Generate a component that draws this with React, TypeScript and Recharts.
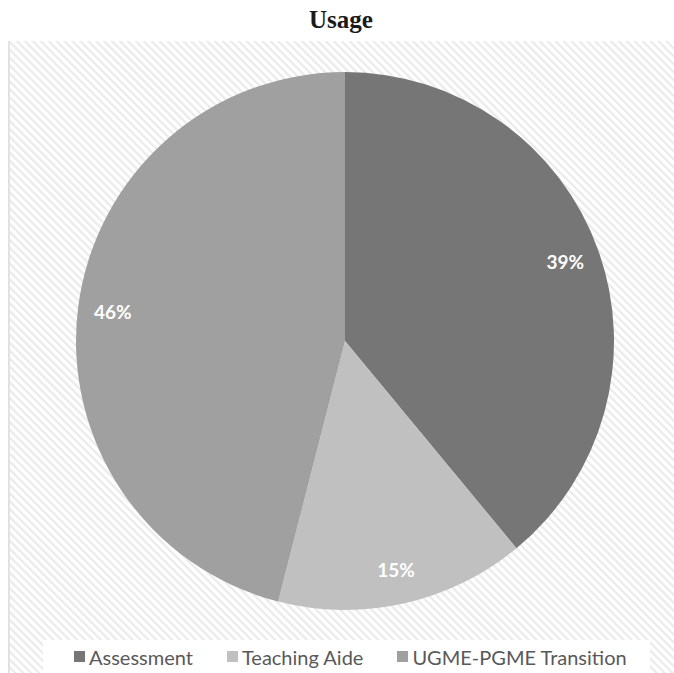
import React from "react";
import { PieChart, Pie, Cell, Legend } from "recharts";

const categories = ["Assessment", "Teaching Aide", "UGME-PGME Transition"];
const values = [39, 15, 46];
const labels = ["39%", "15%", "46%"];
const colors = ["#767676", "#c0c0c0", "#a0a0a0"];

const data = categories.map((name, i) => ({ name, value: values[i], label: labels[i] }));

const RAD = Math.PI / 180;

const renderLabel = (props: any) => {
  const { cx, cy, midAngle, outerRadius, index } = props;
  const r = outerRadius * 0.87;
  const x = cx + r * Math.cos(-midAngle * RAD);
  const y = cy + r * Math.sin(-midAngle * RAD);
  return (
    <text
      x={x}
      y={y}
      fill="#ffffff"
      textAnchor="middle"
      dominantBaseline="central"
      fontFamily="Lato, 'Open Sans', sans-serif"
      fontWeight={700}
      fontSize={19}
    >
      {labels[index]}
    </text>
  );
};

const LegendContent = () => (
  <div
    style={{
      position: "absolute",
      left: 43,
      top: 640,
      width: 607,
      height: 33,
      background: "#ffffff",
      display: "flex",
      alignItems: "center",
      justifyContent: "flex-start",
      paddingLeft: 31,
      boxSizing: "border-box",
      fontFamily: "Lato, 'Open Sans', sans-serif",
      fontSize: 20,
      color: "#595959",
      whiteSpace: "nowrap",
    }}
  >
    {categories.map((c, i) => (
      <div
        key={c}
        style={{ display: "flex", alignItems: "center", flexShrink: 0, marginRight: i < categories.length - 1 ? 34 : 0 }}
      >
        <div style={{ width: 11, height: 11, background: colors[i], marginRight: 4, flexShrink: 0 }} />
        <span style={{ lineHeight: "20px", whiteSpace: "nowrap" }}>{c}</span>
      </div>
    ))}
  </div>
);

export default function App() {
  return (
    <div style={{ position: "absolute", left: 0, top: 0, width: 674, height: 673, background: "#ffffff", overflow: "hidden" }}>
      <div
        style={{
          position: "absolute",
          left: 8,
          top: 41,
          width: 666,
          height: 632,
          borderLeft: "2px solid #e2e2e2",
          boxSizing: "border-box",
          background:
            "repeating-linear-gradient(45deg, #ffffff 0px, #ffffff 2px, #ebebeb 3.2px, #ebebeb 4.2px, #ffffff 5.6px)",
        }}
      />
      <div
        style={{
          position: "absolute",
          left: 0,
          top: 6,
          width: 682,
          textAlign: "center",
          fontFamily: "'Liberation Serif', serif",
          fontWeight: 700,
          fontSize: 25,
          color: "#1a1a1a",
        }}
      >
        Usage
      </div>
      <div style={{ position: "absolute", left: 0, top: 0 }}>
        <PieChart width={674} height={673} margin={{ top: 0, right: 0, bottom: 0, left: 0 }}>
          <Pie
            data={data}
            dataKey="value"
            nameKey="name"
            cx={345}
            cy={341}
            outerRadius={269}
            startAngle={90}
            endAngle={-270}
            stroke="none"
            label={renderLabel}
            labelLine={false}
            isAnimationActive={false}
          >
            {data.map((d, i) => (
              <Cell key={d.name} fill={colors[i]} />
            ))}
          </Pie>
          <Legend content={<LegendContent />} wrapperStyle={{ position: "absolute", left: 0, top: 0, width: 0, height: 0 }} />
        </PieChart>
      </div>
    </div>
  );
}
